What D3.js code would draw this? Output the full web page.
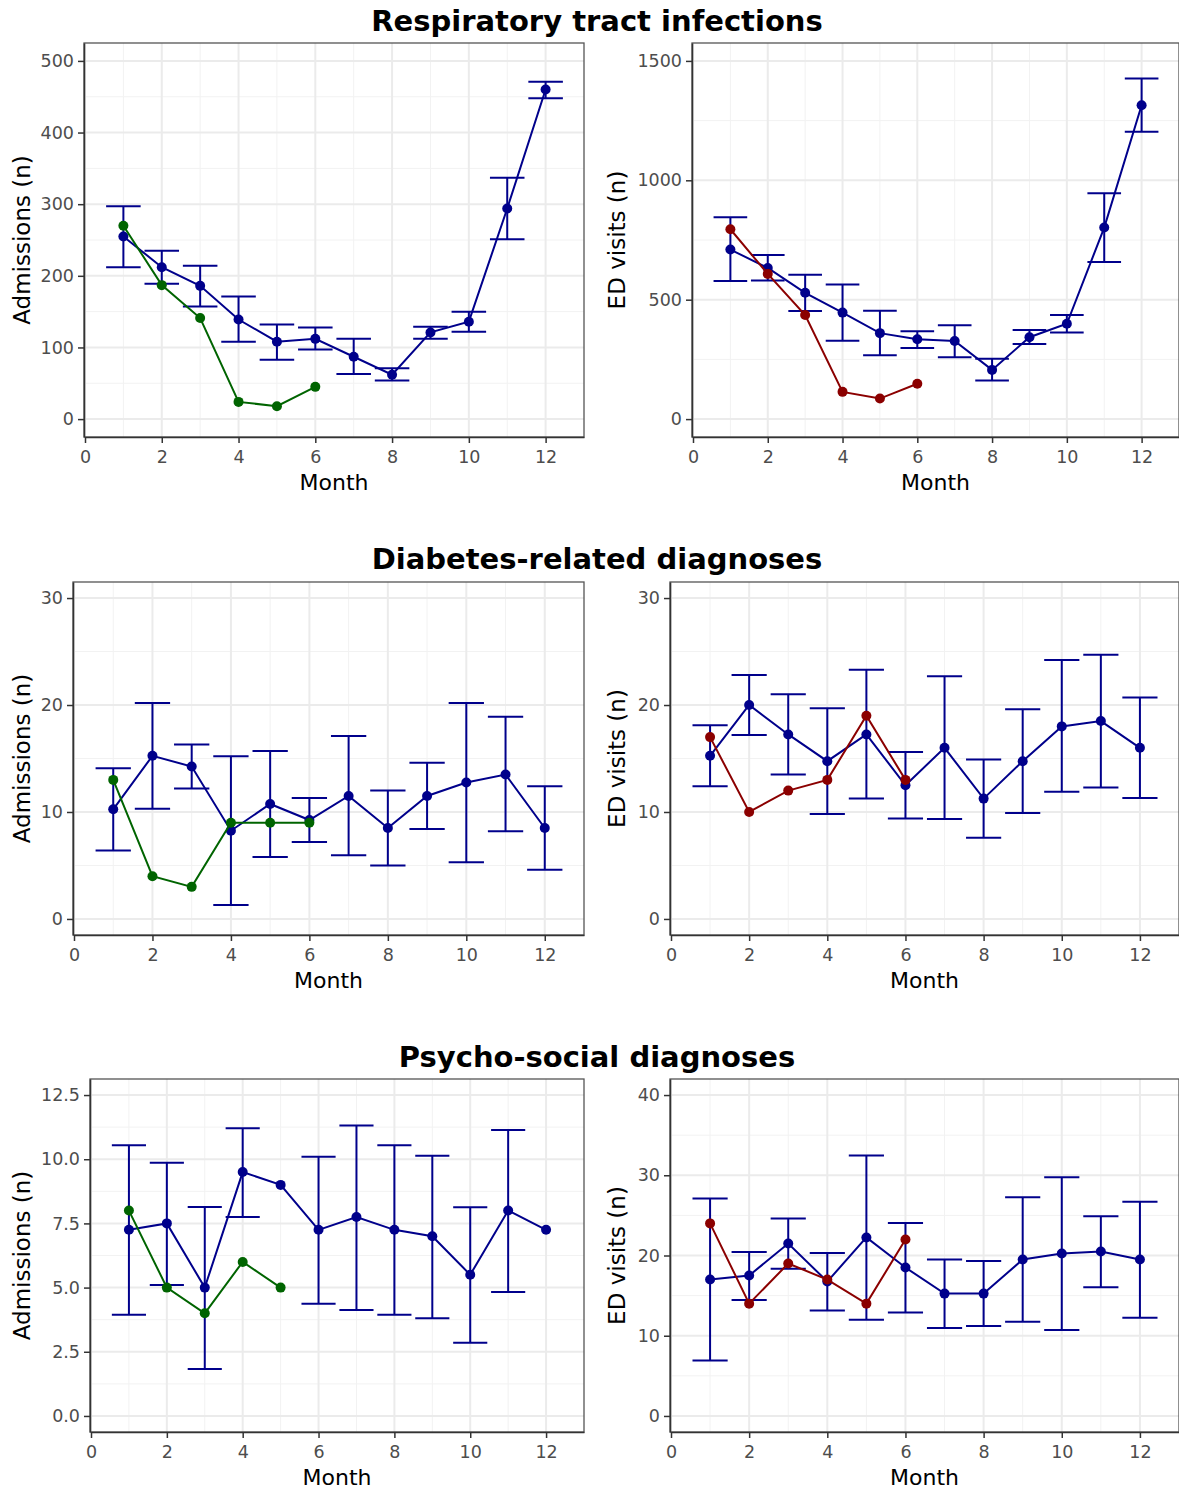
<!DOCTYPE html>
<html>
<head>
<meta charset="utf-8">
<script src="https://cdn.jsdelivr.net/npm/d3@7"></script>
<style>
  body { margin: 0; background: #fff; }
  svg { display: block; font-family: "DejaVu Sans", sans-serif; }
</style>
</head>
<body>
<div class="chart"></div>
<script>
var width = 1179, height = 1489;

var months = [1, 2, 3, 4, 5, 6, 7, 8, 9, 10, 11, 12];
var xTicks = [0, 2, 4, 6, 8, 10, 12];

// respiratory tract infections - admissions
var rtiAdmMean = [255, 212, 186, 139, 108, 112, 87, 62, 121, 136, 294, 460];
var rtiAdmLow  = [212, 189, 157, 108, 83, 97, 63, 54, 112, 122, 251, 448];
var rtiAdmHigh = [297, 235, 214, 171, 132, 128, 112, 71, 129, 150, 337, 471];
var rtiAdmNow  = [270, 187, 141, 24, 18, 45];
// respiratory tract infections - ED visits
var rtiEdMean = [710, 633, 529, 446, 360, 334, 327, 206, 343, 399, 802, 1314];
var rtiEdLow  = [578, 580, 453, 328, 267, 298, 259, 162, 314, 363, 658, 1203];
var rtiEdHigh = [845, 687, 604, 564, 454, 368, 393, 253, 373, 436, 946, 1426];
var rtiEdNow  = [795, 608, 436, 114, 86, 148];

// diabetes - admissions
var diaAdmMean = [10.25, 15.25, 14.25, 8.25, 10.75, 9.25, 11.5, 8.5, 11.5, 12.75, 13.5, 8.5];
var diaAdmLow  = [6.4, 10.3, 12.2, 1.3, 5.8, 7.2, 5.95, 5.0, 8.4, 5.3, 8.2, 4.6];
var diaAdmHigh = [14.1, 20.2, 16.3, 15.2, 15.7, 11.3, 17.1, 12.0, 14.6, 20.2, 18.9, 12.4];
var diaAdmNow  = [13, 4, 3, 9, 9, 9];
// diabetes - ED visits
var diaEdMean = [15.25, 20, 17.25, 14.75, 17.25, 12.5, 16, 11.25, 14.75, 18, 18.5, 16];
var diaEdLow  = [12.4, 17.2, 13.5, 9.8, 11.25, 9.4, 9.35, 7.6, 9.9, 11.9, 12.3, 11.3];
var diaEdHigh = [18.1, 22.8, 21.0, 19.7, 23.3, 15.6, 22.7, 14.9, 19.6, 24.2, 24.7, 20.7];
var diaEdNow  = [17, 10, 12, 13, 19, 13];

// psycho-social - admissions (no error bar at months 5 and 12)
var psyAdmMean = [7.25, 7.5, 5, 9.5, 9, 7.25, 7.75, 7.25, 7, 5.5, 8, 7.25];
var psyAdmLow  = [3.94, 5.1, 1.83, 7.75, 9, 4.37, 4.13, 3.94, 3.81, 2.85, 4.83, 7.25];
var psyAdmHigh = [10.54, 9.86, 8.14, 11.21, 9, 10.1, 11.31, 10.54, 10.14, 8.13, 11.14, 7.25];
var psyAdmNow  = [8, 5, 4, 6, 5];
// psycho-social - ED visits
var psyEdMean = [17, 17.5, 21.5, 16.75, 22.25, 18.5, 15.25, 15.25, 19.5, 20.25, 20.5, 19.5];
var psyEdLow  = [6.9, 14.45, 18.35, 13.15, 12.0, 12.9, 10.95, 11.2, 11.75, 10.7, 16.05, 12.25];
var psyEdHigh = [27.1, 20.45, 24.6, 20.3, 32.45, 24.05, 19.5, 19.3, 27.25, 29.75, 24.9, 26.7];
var psyEdNow  = [24, 14, 19, 17, 14, 22];

var rowTitles = ["Respiratory tract infections", "Diabetes-related diagnoses", "Psycho-social diagnoses"];
var yTitles = ["Admissions (n)", "ED visits (n)"];

var panels = [
  { left: 84, right: 584, top: 43, bottom: 437, ydom: [-25, 525], yticks: [0, 100, 200, 300, 400, 500], fmt: d3.format("d"),
    mean: rtiAdmMean, low: rtiAdmLow, high: rtiAdmHigh, now: rtiAdmNow, col: "#006400", yt: yTitles[0] },
  { left: 692, right: 1179, top: 43, bottom: 437, ydom: [-75, 1575], yticks: [0, 500, 1000, 1500], fmt: d3.format("d"),
    mean: rtiEdMean, low: rtiEdLow, high: rtiEdHigh, now: rtiEdNow, col: "#8B0000", yt: yTitles[1] },
  { left: 73, right: 584, top: 582, bottom: 935, ydom: [-1.5, 31.5], yticks: [0, 10, 20, 30], fmt: d3.format("d"),
    mean: diaAdmMean, low: diaAdmLow, high: diaAdmHigh, now: diaAdmNow, col: "#006400", yt: yTitles[0] },
  { left: 670, right: 1179, top: 582, bottom: 935, ydom: [-1.5, 31.5], yticks: [0, 10, 20, 30], fmt: d3.format("d"),
    mean: diaEdMean, low: diaEdLow, high: diaEdHigh, now: diaEdNow, col: "#8B0000", yt: yTitles[1] },
  { left: 90, right: 584, top: 1079, bottom: 1432, ydom: [-0.625, 13.125], yticks: [0, 2.5, 5, 7.5, 10, 12.5], fmt: d3.format(".1f"),
    mean: psyAdmMean, low: psyAdmLow, high: psyAdmHigh, now: psyAdmNow, col: "#006400", yt: yTitles[0] },
  { left: 670, right: 1179, top: 1079, bottom: 1432, ydom: [-2, 42], yticks: [0, 10, 20, 30, 40], fmt: d3.format("d"),
    mean: psyEdMean, low: psyEdLow, high: psyEdHigh, now: psyEdNow, col: "#8B0000", yt: yTitles[1] }
];
var titleY = [31, 569, 1067];
var blue = "#00008B";

var svg = d3.select(".chart")
  .append("svg")
  .attr("width", width)
  .attr("height", height);

rowTitles.forEach(function(t, i) {
  svg.append("text")
    .attr("x", 597).attr("y", titleY[i])
    .attr("text-anchor", "middle")
    .attr("font-size", "29px").attr("font-weight", "bold")
    .text(t);
});

panels.forEach(function(p) {
  var x = d3.scaleLinear().domain([0, 13]).range([p.left + 1, p.right]);
  var y = d3.scaleLinear().domain(p.ydom).range([p.bottom, p.top]);
  var g = svg.append("g");

  // grid
  var xMinor = d3.range(1, 13, 2);
  var yMinor = p.yticks.slice(0, -1).map(function(v, i) { return (v + p.yticks[i + 1]) / 2; });
  g.selectAll(".xminor").data(xMinor).enter().append("line")
    .attr("x1", x).attr("x2", x).attr("y1", p.top).attr("y2", p.bottom)
    .attr("stroke", "#F2F2F2").attr("stroke-width", 1);
  g.selectAll(".yminor").data(yMinor).enter().append("line")
    .attr("y1", y).attr("y2", y).attr("x1", p.left).attr("x2", p.right)
    .attr("stroke", "#F2F2F2").attr("stroke-width", 1);
  g.selectAll(".xmajor").data(xTicks).enter().append("line")
    .attr("x1", x).attr("x2", x).attr("y1", p.top).attr("y2", p.bottom)
    .attr("stroke", "#EBEBEB").attr("stroke-width", 2);
  g.selectAll(".ymajor").data(p.yticks).enter().append("line")
    .attr("y1", y).attr("y2", y).attr("x1", p.left).attr("x2", p.right)
    .attr("stroke", "#EBEBEB").attr("stroke-width", 2);

  // error bars
  var hw = 0.45;
  var eb = g.append("g").attr("stroke", blue).attr("stroke-width", 2);
  months.forEach(function(m, i) {
    if (p.low[i] === p.high[i]) return;
    eb.append("line").attr("x1", x(m)).attr("x2", x(m)).attr("y1", y(p.low[i])).attr("y2", y(p.high[i]));
    eb.append("line").attr("x1", x(m - hw)).attr("x2", x(m + hw)).attr("y1", y(p.low[i])).attr("y2", y(p.low[i]));
    eb.append("line").attr("x1", x(m - hw)).attr("x2", x(m + hw)).attr("y1", y(p.high[i])).attr("y2", y(p.high[i]));
  });

  var line = d3.line().x(function(d) { return x(d[0]); }).y(function(d) { return y(d[1]); });
  var meanPts = months.map(function(m, i) { return [m, p.mean[i]]; });
  var nowPts = p.now.map(function(v, i) { return [months[i], v]; });

  g.append("path").attr("d", line(meanPts)).attr("fill", "none").attr("stroke", blue).attr("stroke-width", 2);
  g.selectAll(".mdot").data(meanPts).enter().append("circle")
    .attr("cx", function(d) { return x(d[0]); }).attr("cy", function(d) { return y(d[1]); })
    .attr("r", 5).attr("fill", blue);

  g.append("path").attr("d", line(nowPts)).attr("fill", "none").attr("stroke", p.col).attr("stroke-width", 2);
  g.selectAll(".ndot").data(nowPts).enter().append("circle")
    .attr("cx", function(d) { return x(d[0]); }).attr("cy", function(d) { return y(d[1]); })
    .attr("r", 5).attr("fill", p.col);

  // border
  g.append("rect")
    .attr("x", p.left).attr("y", p.top)
    .attr("width", p.right - p.left).attr("height", p.bottom - p.top)
    .attr("fill", "none").attr("stroke", "#555").attr("stroke-width", 1.3);

  // axes
  var xa = g.append("g")
    .attr("transform", "translate(0," + p.bottom + ")")
    .call(d3.axisBottom(x).tickValues(xTicks).tickSize(6).tickSizeOuter(0).tickPadding(8));
  var ya = g.append("g")
    .attr("transform", "translate(" + p.left + ",0)")
    .call(d3.axisLeft(y).tickValues(p.yticks).tickFormat(p.fmt).tickSize(6).tickSizeOuter(0).tickPadding(4));
  [xa, ya].forEach(function(a) {
    a.select(".domain").attr("stroke", "#333").attr("stroke-width", 1.5);
    a.selectAll(".tick line").attr("stroke", "#333").attr("stroke-width", 1.5);
    a.selectAll(".tick text").attr("fill", "#4D4D4D").attr("font-size", "17.5px").attr("font-family", "DejaVu Sans");
  });

  g.append("text")
    .attr("x", (p.left + p.right) / 2).attr("y", p.bottom + 53)
    .attr("text-anchor", "middle").attr("font-size", "22px")
    .text("Month");
  var cx = p.left < 300 ? 22 : 617;
  g.append("text")
    .attr("transform", "translate(" + (cx + 8) + "," + ((p.top + p.bottom) / 2) + ") rotate(-90)")
    .attr("text-anchor", "middle").attr("font-size", "23px")
    .text(p.yt);
});
</script>
</body>
</html>
